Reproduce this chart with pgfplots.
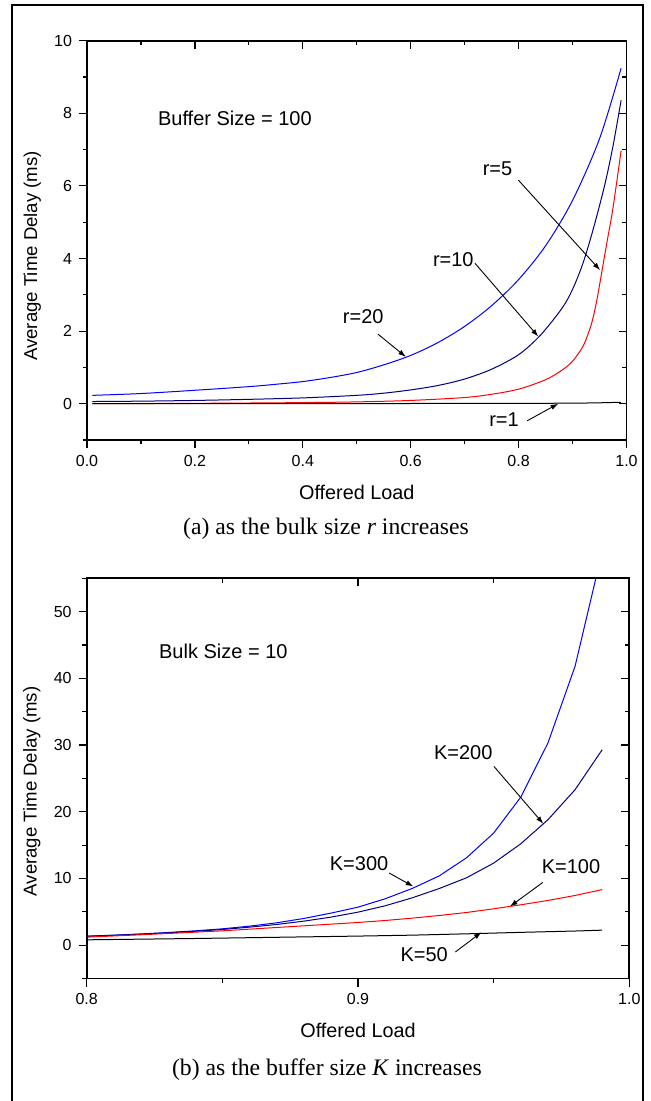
\documentclass[border=0pt]{standalone}
\usepackage{pgfplots}
\pgfplotsset{compat=1.18}
\usepackage{fontspec}
\setmainfont{Liberation Sans}
\newfontfamily\capfont{Liberation Serif}
\usetikzlibrary{arrows.meta}

\definecolor{navy}{rgb}{0,0,0.5}

\tikzset{
  note/.style={font=\fontsize{10}{12}\selectfont, anchor=base},
  pointer/.style={line width=0.45pt, -{Latex[length=3.8pt,width=2.6pt]}},
}

\pgfplotsset{
  frame/.style={
    scale only axis,
    axis line style={line width=0.85pt},
    tick style={black, line width=0.6pt},
    major tick length=4pt, minor tick length=2.2pt,
    ticklabel style={font=\fontsize{8}{9}\selectfont},
    /pgf/number format/assume math mode=true,
  },
  panel/.style={frame,
    tick align=outside, xtick pos=left, ytick pos=left,
    xlabel style={font=\fontsize{9.9}{11}\selectfont,
      at={(axis description cs:0.5,0)}, anchor=base, yshift=-29.7pt},
    ylabel style={font=\fontsize{9.3}{11}\selectfont, anchor=base},
    every axis plot/.append style={line width=0.5pt},
    xlabel={Offered Load},
    ylabel={Average Time Delay (ms)},
  },
  mirror/.style={frame,
    tick align=inside, xtick pos=right, ytick pos=right,
    xticklabels={}, yticklabels={},
  },
  topbox/.style={at={(43.5pt,-220pt)}, anchor=south west,
    width=269.75pt, height=199.65pt,
    xmin=0, xmax=1, ymin=-1, ymax=10,
    xtick={0,0.2,0.4,0.6,0.8,1}, minor xtick={0.1,0.3,0.5,0.7,0.9},
    ytick={0,2,4,6,8,10}, minor ytick={-1,1,3,5,7,9},
    xticklabel style={/pgf/number format/.cd, fixed, fixed zerofill, precision=1},
  },
  botbox/.style={at={(43.35pt,-489.25pt)}, anchor=south west,
    width=271.3pt, height=200.1pt,
    xmin=0.8, xmax=1, ymin=-5, ymax=55,
    xtick={0.8,0.9,1}, minor xtick={0.85,0.95},
    ytick={0,10,20,30,40,50}, minor ytick={-5,5,15,25,35,45,55},
    xticklabel style={/pgf/number format/.cd, fixed, fixed zerofill, precision=1},
  },
}

\begin{document}
\begin{tikzpicture}
\path[use as bounding box] (0,0) rectangle (325pt,-550.5pt);
\draw[line width=0.85pt] (6pt,-556pt) -- (6pt,-2.35pt) -- (321.5pt,-2.35pt) -- (321.5pt,-556pt);

% (a) bulk size r
\begin{axis}[topbox, panel,
    ylabel style={at={([xshift=-25pt]axis description cs:0,0.461)}}]
  % r = 20
  \addplot[blue, smooth] coordinates {
    (0.01,0.23) (0.1,0.28) (0.2,0.37) (0.3,0.47) (0.35,0.535) (0.4,0.61)
    (0.45,0.72) (0.5,0.86) (0.55,1.07) (0.6,1.33) (0.65,1.68) (0.7,2.13)
    (0.75,2.70) (0.8,3.42) (0.85,4.35) (0.9,5.6) (0.95,7.3) (0.99,9.24)};
  % r = 10
  \addplot[navy, smooth] coordinates {
    (0.01,0.06) (0.1,0.07) (0.2,0.09) (0.3,0.12) (0.4,0.16) (0.5,0.23)
    (0.55,0.29) (0.6,0.38) (0.65,0.50) (0.7,0.68) (0.75,0.95) (0.8,1.35)
    (0.84,1.88) (0.88,2.62) (0.9,3.15) (0.92,3.9) (0.94,4.9) (0.96,6.05)
    (0.975,7.1) (0.99,8.36)};
  % r = 5
  \addplot[red, smooth] coordinates {
    (0.01,0.0) (0.2,0.01) (0.4,0.03) (0.5,0.05) (0.6,0.09) (0.7,0.17)
    (0.75,0.26) (0.8,0.40) (0.85,0.66) (0.88,0.92) (0.9,1.17) (0.92,1.6)
    (0.935,2.2) (0.945,2.85) (0.955,3.7) (0.965,4.55) (0.975,5.4) (0.99,6.97)};
  % r = 1
  \addplot[black, smooth] coordinates {
    (0.01,0.0) (0.5,0.004) (0.8,0.01) (0.9,0.015) (0.95,0.025) (0.99,0.04)};

  \node[note, anchor=base west] at (axis cs:0.1186,7.66) {Buffer Size = 100};
  \node[note] at (axis cs:0.761,6.30) {r=5};
  \draw[pointer] (axis cs:0.7995,6.16) -- (axis cs:0.951,3.68);
  \node[note] at (axis cs:0.679,3.77) {r=10};
  \draw[pointer] (axis cs:0.719,3.87) -- (axis cs:0.8365,1.85);
  \node[note] at (axis cs:0.512,2.20) {r=20};
  \draw[pointer] (axis cs:0.539,1.92) -- (axis cs:0.591,1.29);
  \node[note] at (axis cs:0.773,-0.63) {r=1};
  \draw[pointer] (axis cs:0.816,-0.47) -- (axis cs:0.8735,0.0);
\end{axis}
\begin{axis}[topbox, mirror]
\end{axis}
\node[font=\capfont\fontsize{11.85}{14}\selectfont, anchor=base] at (163pt,-267pt)
  {(a) as the bulk size \textit{r} increases};

% (b) buffer size K
\begin{axis}[botbox, panel,
    ylabel style={at={([xshift=-25pt]axis description cs:0,0.4675)}}]
  % K = 300
  \addplot[blue] coordinates {
    (0.80,1.35) (0.81,1.50) (0.82,1.68) (0.83,1.90) (0.84,2.15) (0.85,2.45)
    (0.86,2.85) (0.87,3.35) (0.88,4.0) (0.89,4.8) (0.90,5.7) (0.91,6.95)
    (0.92,8.5) (0.93,10.4) (0.94,13.1) (0.95,16.8) (0.96,22.2) (0.97,30.3)
    (0.98,41.8) (0.99,59.0)};
  % K = 200
  \addplot[navy] coordinates {
    (0.80,1.33) (0.81,1.48) (0.82,1.65) (0.83,1.85) (0.84,2.08) (0.85,2.35)
    (0.86,2.70) (0.87,3.10) (0.88,3.60) (0.89,4.20) (0.90,4.95) (0.91,5.9)
    (0.92,7.1) (0.93,8.5) (0.94,10.1) (0.95,12.3) (0.96,15.2) (0.97,18.8)
    (0.98,23.3) (0.99,29.3)};
  % K = 100
  \addplot[red] coordinates {
    (0.80,1.2) (0.81,1.38) (0.82,1.56) (0.83,1.75) (0.84,1.95) (0.85,2.15)
    (0.86,2.4) (0.87,2.65) (0.88,2.9) (0.89,3.15) (0.90,3.4) (0.91,3.7)
    (0.92,4.05) (0.93,4.45) (0.94,4.9) (0.95,5.45) (0.96,6.05) (0.97,6.7)
    (0.98,7.45) (0.99,8.33)};
  % K = 50
  \addplot[black] coordinates {
    (0.80,0.80) (0.82,0.90) (0.84,1.0) (0.86,1.12) (0.88,1.24) (0.90,1.36)
    (0.92,1.5) (0.94,1.7) (0.96,1.92) (0.98,2.12) (0.99,2.25)};

  \node[note, anchor=base west] at (axis cs:0.8241,42.97) {Bulk Size = 10};
  \node[note] at (axis cs:0.9004,11.15) {K=300};
  \draw[pointer] (axis cs:0.9115,10.81) -- (axis cs:0.9204,8.8);
  \node[note] at (axis cs:0.9388,27.8) {K=200};
  \draw[pointer] (axis cs:0.9501,26.8) -- (axis cs:0.9683,18.2);
  \node[note] at (axis cs:0.9785,10.7) {K=100};
  \draw[pointer] (axis cs:0.9681,9.4) -- (axis cs:0.956,5.8);
  \node[note] at (axis cs:0.9244,-2.49) {K=50};
  \draw[pointer] (axis cs:0.9359,-1.02) -- (axis cs:0.9455,1.93);
\end{axis}
\begin{axis}[botbox, mirror]
\end{axis}
\node[font=\capfont\fontsize{11.85}{14}\selectfont, anchor=base] at (163.5pt,-537.5pt)
  {(b) as the buffer size \textit{K} increases};
\end{tikzpicture}
\end{document}
